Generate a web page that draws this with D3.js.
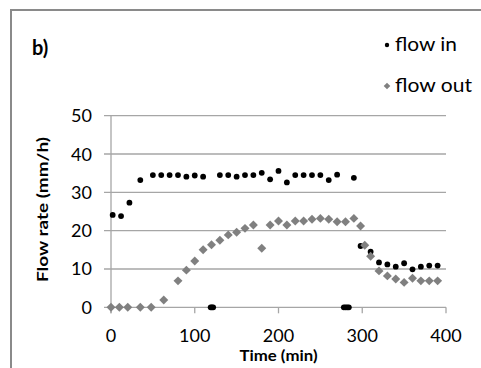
<!DOCTYPE html>
<html>
<head>
<meta charset="utf-8">
<script src="https://cdn.jsdelivr.net/npm/d3@7"></script>
<style>
  html, body { margin: 0; padding: 0; background: #fff; }
  svg { display: block; }
  text { font-family: Lato, "Open Sans", sans-serif; fill: #000; }
</style>
</head>
<body>
<script>
// flow in (black dots), min vs mm/h
const timeIn = [2, 12, 22, 35, 50, 60, 70, 80, 90, 100, 110, 119, 120.5, 122,
  130, 140, 150, 160, 170, 180, 190, 200, 210, 220, 230, 240, 250, 260, 270,
  278, 280, 282, 284, 290, 298, 310, 320, 330, 340, 350, 360, 370, 380, 390];
const flowIn = [24.1, 23.8, 27.3, 33.2, 34.5, 34.5, 34.5, 34.5, 34.1, 34.4, 34.1, 0, 0, 0,
  34.5, 34.5, 34.1, 34.5, 34.5, 35.1, 33.4, 35.6, 32.6, 34.5, 34.5, 34.5, 34.5, 33.2, 34.6,
  0, 0, 0, 0, 33.8, 16.0, 14.5, 11.7, 11.2, 10.6, 11.5, 9.9, 10.6, 10.9, 10.9];

// flow out (grey diamonds)
const timeOut = [0, 10, 20, 35, 48, 63, 80, 90, 100, 110, 120, 130, 140, 150, 160, 170,
  180, 190, 200, 210, 220, 230, 240, 250, 260, 270, 280, 290, 298, 303, 310, 320, 330,
  340, 350, 360, 370, 380, 390];
const flowOut = [0, 0, 0, 0, 0, 1.9, 6.9, 9.7, 12.1, 15.0, 16.3, 17.5, 18.9, 19.6, 20.6, 21.5,
  15.4, 21.5, 22.5, 21.5, 22.5, 22.5, 23.0, 23.2, 23.0, 22.3, 22.3, 23.2, 21.2, 16.2, 13.3, 9.5, 8.2,
  7.4, 6.5, 7.6, 6.9, 6.9, 6.9];

const xTicks = [0, 100, 200, 300, 400];
const yTicks = [0, 10, 20, 30, 40, 50];

const width = 481, height = 368;
const gridColor = "#a6a6a6";

const svg = d3.select("body").append("svg")
  .attr("width", width)
  .attr("height", height);

// chart border
svg.append("rect")
  .attr("x", 11).attr("y", 10)
  .attr("width", 480).attr("height", 380)
  .attr("fill", "none")
  .attr("stroke", "#8a8a8a")
  .attr("stroke-width", 2);

const x = d3.scaleLinear().domain([0, 400]).range([111, 446]);
const y = d3.scaleLinear().domain([0, 50]).range([307.3, 115.7]);

// horizontal gridlines + y labels
svg.append("g").selectAll("line")
  .data(yTicks)
  .join("line")
  .attr("x1", 104).attr("x2", x(400))
  .attr("y1", d => y(d)).attr("y2", d => y(d))
  .attr("stroke", gridColor)
  .attr("stroke-width", 1.3);

svg.append("g").selectAll("text")
  .data(yTicks)
  .join("text")
  .attr("x", 92)
  .attr("y", d => y(d))
  .attr("dy", "0.36em")
  .attr("text-anchor", "end")
  .attr("font-size", 18)
  .text(d => d);

// y axis line
svg.append("line")
  .attr("x1", x(0)).attr("x2", x(0))
  .attr("y1", y(50)).attr("y2", y(0) + 6)
  .attr("stroke", gridColor)
  .attr("stroke-width", 1.3);

// x ticks
svg.append("g").selectAll("line")
  .data(xTicks)
  .join("line")
  .attr("x1", d => x(d)).attr("x2", d => x(d))
  .attr("y1", y(0)).attr("y2", y(0) + 6)
  .attr("stroke", gridColor)
  .attr("stroke-width", 1.3);

svg.append("g").selectAll("text")
  .data(xTicks)
  .join("text")
  .attr("x", d => x(d))
  .attr("y", 342)
  .attr("text-anchor", "middle")
  .attr("font-size", 18)
  .text(d => d);

// axis titles
svg.append("text")
  .attr("x", (x(0) + x(400)) / 2)
  .attr("y", 360.5)
  .attr("text-anchor", "middle")
  .attr("font-size", 14.5)
  .attr("font-weight", "bold")
  .attr("textLength", 78)
  .attr("lengthAdjust", "spacingAndGlyphs")
  .text("Time (min)");

svg.append("text")
  .attr("transform", "translate(48,209.5) rotate(-90)")
  .attr("text-anchor", "middle")
  .attr("font-size", 15)
  .attr("font-weight", "bold")
  .attr("textLength", 145)
  .attr("lengthAdjust", "spacingAndGlyphs")
  .text("Flow rate (mm/h)");

svg.append("text")
  .attr("x", 32).attr("y", 55)
  .attr("font-size", 20)
  .attr("font-weight", "bold")
  .text("b)");

// data points
svg.append("g").selectAll("circle")
  .data(timeIn.map((t, i) => [t, flowIn[i]]))
  .join("circle")
  .attr("cx", d => x(d[0]))
  .attr("cy", d => y(d[1]))
  .attr("r", 2.9)
  .attr("fill", "#000");

const diamond = d3.symbol().type(d3.symbolSquare).size(40);
svg.append("g").selectAll("path")
  .data(timeOut.map((t, i) => [t, flowOut[i]]))
  .join("path")
  .attr("d", diamond)
  .attr("transform", d => `translate(${x(d[0])},${y(d[1])}) rotate(45)`)
  .attr("fill", "#808080");

// legend
svg.append("circle").attr("cx", 387).attr("cy", 45).attr("r", 2.2).attr("fill", "#000");
svg.append("text").attr("x", 395).attr("y", 51).attr("font-size", 20)
  .attr("textLength", 62).attr("lengthAdjust", "spacingAndGlyphs").text("flow in");
svg.append("path")
  .attr("d", d3.symbol().type(d3.symbolSquare).size(22))
  .attr("transform", "translate(387,86) rotate(45)")
  .attr("fill", "#808080");
svg.append("text").attr("x", 395).attr("y", 92).attr("font-size", 20)
  .attr("textLength", 77).attr("lengthAdjust", "spacingAndGlyphs").text("flow out");
</script>
</body>
</html>
